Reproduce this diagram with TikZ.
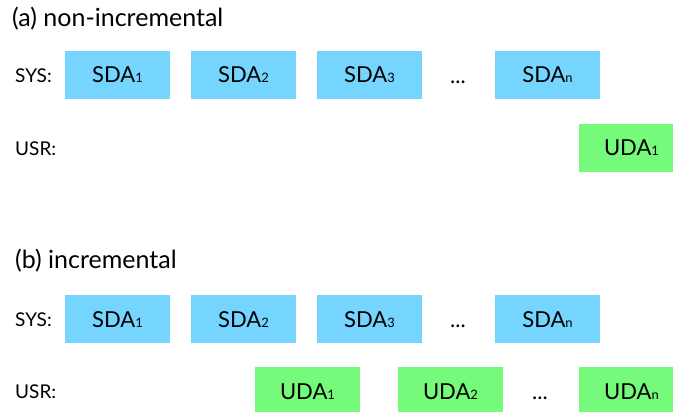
\documentclass[tikz,border=0pt]{standalone}
\usepackage{fontspec}
\setmainfont{Lato}
\definecolor{sysblue}{RGB}{117,213,255}
\definecolor{usrgreen}{RGB}{118,250,123}
\newcommand{\sbs}[1]{{\fontsize{13}{13}\selectfont #1}}
\begin{document}
\begin{tikzpicture}[x=1pt,y=-1pt,
  box/.style={minimum width=105pt,minimum height=48pt,inner sep=0pt,text height=16pt,text depth=0pt,font=\fontsize{22}{22}\selectfont},
  sysbox/.style={box,fill=sysblue},
  usrbox/.style={box,fill=usrgreen},
  rowlabel/.style={anchor=base west,inner sep=0pt,font=\fontsize{19}{19}\selectfont},
  heading/.style={anchor=base west,inner sep=0pt,font=\fontsize{25}{25}\selectfont},
  dots/.style={anchor=base,inner sep=0pt,font=\fontsize{22}{22}\selectfont}]
\useasboundingbox (0,0) rectangle (673,412);
% (a)
\node[heading] (ha) at (12,27) {(a) non-incremental};
\node[rowlabel] (sysa) at (15,83) {SYS:};
\node[rowlabel] (usra) at (15,155) {USR:};
\node[sysbox] (a1) at (117.5,75) {SDA\sbs{1}};
\node[sysbox] (a2) at (243.5,75) {SDA\sbs{2}};
\node[sysbox] (a3) at (369.5,75) {SDA\sbs{3}};
\node[dots] (adots) at (458,84) {...};
\node[sysbox] (an) at (547.5,75) {SDA\sbs{n}};
\node[usrbox] (au1) at (631.5,148) {UDA\sbs{1}};
% (b)
\node[heading] (hb) at (15,268) {(b) incremental};
\node[rowlabel] (sysb) at (15,326) {SYS:};
\node[rowlabel] (usrb) at (15,398) {USR:};
\node[sysbox] (b1) at (117.5,319) {SDA\sbs{1}};
\node[sysbox] (b2) at (243.5,319) {SDA\sbs{2}};
\node[sysbox] (b3) at (369.5,319) {SDA\sbs{3}};
\node[dots] (bdots) at (458,327) {...};
\node[sysbox] (bn) at (547.5,319) {SDA\sbs{n}};
\node[usrbox] (bu1) at (307.5,391) {UDA\sbs{1}};
\node[usrbox] (bu2) at (450.5,391) {UDA\sbs{2}};
\node[dots] (budots) at (540,399) {...};
\node[usrbox] (bun) at (631.5,391) {UDA\sbs{n}};
\end{tikzpicture}
\end{document}
